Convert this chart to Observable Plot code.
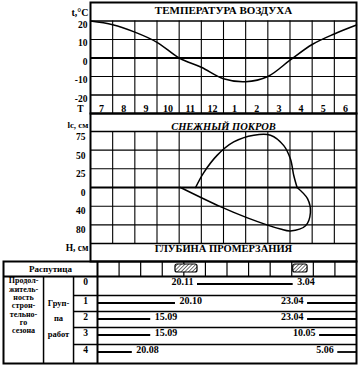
<!DOCTYPE html>
<html><head><meta charset="utf-8">
<script src="https://cdn.jsdelivr.net/npm/d3@7"></script>
<script src="https://cdn.jsdelivr.net/npm/@observablehq/plot@0.6"></script>
<style>
body{margin:0;background:#fff;}
#chart{position:relative;width:360px;height:365px;background:#fff;}
#chart svg{position:absolute;left:0;top:0;}
</style></head><body><div id="chart"></div>
<script>
// ---- data ----
const months = ["7","8","9","10","11","12","1","2","3","4","5","6"];
const monthNums = [7,8,9,10,11,12,1,2,3,4,5,6];
const daysInMonth = [31,31,30,31,30,31,31,28,31,30,31,30];
const tempPos = [0,1,2,3,4,5,6,7,8,9,10,11,12];
const tempC = [20,18,14,8.5,0,-5,-11.2,-12.8,-10,-1.2,7.3,13,17.8];
const tempTicks = [20,10,0,-10,-20];
const snowPos = [4.74,5.11,5.71,6.46,7.37,8.12,8.72,9.02,9.17,9.32];
const snowCm = [0,20,43,61,70,70,56,38,16,0];
const frostPos = [4.06,5.86,7.08,8.57,9.02,9.7,9.92,9.79,9.32];
const frostCm = [0,41,65,89,93,82,54,24,0];
const snowTicks = [75,50,25,0];
const frostTicks = [40,80];
const rasputitsa = [["20.10","20.11"],["3.04","23.04"]];
const groups = [0,1,2,3,4];
const winter = ["20.11","3.04"];
const seasonEnd = ["20.10","15.09","15.09","20.08"];
const seasonStart = ["23.04","23.04","10.05","5.06"];

function pos(s){
  const [d,m] = s.split(".").map(Number);
  const i = monthNums.indexOf(m);
  return i + (d-1)/daysInMonth[i];
}

const fnt = "'Liberation Serif','Times New Roman',serif";
const baseStyle = {fontFamily:fnt, fontWeight:"bold", fontSize:"10px", background:"transparent"};
const chart = document.getElementById("chart");

// ---- temperature ----
const tempData = tempPos.map((x,i)=>({x, t:tempC[i]}));
const p1 = Plot.plot({
  width:360, height:365, marginLeft:90, marginRight:4, marginTop:2, marginBottom:252,
  style:baseStyle,
  x:{domain:[0,12], axis:null},
  y:{domain:[-30,30], axis:null},
  marks:[
    Plot.ruleX(d3.range(1,12), {y1:-30, y2:20, strokeWidth:1.1}),
    Plot.ruleY([10,-10], {strokeWidth:1.1}),
    Plot.ruleY([20,-20], {strokeWidth:1.5}),
    Plot.ruleY([0], {strokeWidth:2.2}),
    Plot.line(tempData, {x:"x", y:"t", curve:"catmull-rom", strokeWidth:1.5}),
    Plot.text(months, {x:(d,i)=>i+0.5, y:-27.3, text:d=>d, fontSize:10}),
    Plot.text(["ТЕМПЕРАТУРА ВОЗДУХА"], {x:6, y:25.5, text:d=>d, fontSize:11}),
    Plot.text(tempTicks, {y:d=>d, text:d=>String(d), frameAnchor:"left", dx:-3, dy:3.5, textAnchor:"end", fontSize:9.5}),
    Plot.text(["t,°C"], {frameAnchor:"top-left", text:d=>d, dx:-2, dy:6, textAnchor:"end"}),
    Plot.text(["T"], {y:-27.8, text:d=>d, frameAnchor:"left", dx:-7, textAnchor:"end", fontSize:9.5}),
    Plot.frame({strokeWidth:2})
  ]
});
chart.appendChild(p1);

// ---- snow cover / frost depth (grid units: 25 cm above zero, 40 cm below) ----
const unit = v => v >= 0 ? v/25 : v/40;
const snow = snowPos.map((x,i)=>({x, v:snowCm[i]}));
const frost = frostPos.map((x,i)=>({x, v:-frostCm[i]}));
const p2 = Plot.plot({
  width:360, height:365, marginLeft:90, marginRight:4, marginTop:113, marginBottom:104,
  style:baseStyle,
  x:{domain:[0,12], axis:null},
  y:{domain:[-3.96,3.96], axis:null},
  marks:[
    Plot.ruleX(d3.range(1,12), {y1:unit(-120), y2:unit(75), strokeWidth:1.1}),
    Plot.ruleY([50,25,-40,-80], {y:unit, strokeWidth:1.1}),
    Plot.ruleY([75,-120], {y:unit, strokeWidth:1.6}),
    Plot.ruleY([0], {strokeWidth:2.2}),
    Plot.line(snow, {x:"x", y:d=>unit(d.v), curve:"catmull-rom", strokeWidth:1.5}),
    Plot.line(frost, {x:"x", y:d=>unit(d.v), curve:"catmull-rom", strokeWidth:1.5}),
    Plot.text(["СНЕЖНЫЙ ПОКРОВ"], {x:6, y:3.25, text:d=>d, fontSize:10.5, fontStyle:"italic"}),
    Plot.text(["ГЛУБИНА ПРОМЕРЗАНИЯ"], {x:6, y:-3.27, text:d=>d, fontSize:10.5}),
    Plot.text(snowTicks, {y:unit, text:d=>String(d), frameAnchor:"left", dx:-5, dy:5.5, textAnchor:"end", fontSize:9.5}),
    Plot.text(frostTicks, {y:d=>unit(-d), text:d=>String(d), frameAnchor:"left", dx:-5, dy:5, textAnchor:"end", fontSize:9.5}),
    Plot.text(["lс, см"], {y:3.33, text:d=>d, frameAnchor:"left", dx:-2, textAnchor:"end", fontSize:9}),
    Plot.text(["Н, см"], {y:-3.22, text:d=>d, frameAnchor:"left", dx:-2, textAnchor:"end", fontSize:9.5}),
    Plot.frame({strokeWidth:2})
  ]
});
chart.appendChild(p2);

// ---- table ----
const colEdge = [-94/21.583, -2.5, -1.11, 0];     // left, group col, number col, timeline start
const rowTop = [0, 15, 34, 50, 66, 83, 102];      // px offsets from table top
const segs = [{g:0, a:pos(winter[0]), b:pos(winter[1])}];
const labStart = [{g:0, x:pos(winter[1]), t:winter[1]}];
const labEnd = [{g:0, x:pos(winter[0]), t:winter[0]}];
seasonEnd.forEach((e,i)=>{
  const g = i+1, s = seasonStart[i];
  segs.push({g, a:0, b:pos(e)}, {g, a:pos(s), b:12});
  labStart.push({g, x:pos(e), t:e});
  labEnd.push({g, x:pos(s), t:s});
});
const rasp = rasputitsa.map(([a,b])=>({a:pos(a), b:pos(b)}));

const p3 = Plot.plot({
  width:360, height:365, marginLeft:3, marginRight:4, marginTop:261, marginBottom:2,
  style:baseStyle,
  x:{domain:[colEdge[0],12], axis:null},
  y:{domain:[0,102], reverse:true, axis:null},
  marks:[
    Plot.ruleX(d3.range(1,12), {y1:0, y2:rowTop[1], strokeWidth:1.2}),
    Plot.ruleX([0], {y1:0, y2:102, strokeWidth:2}),
    Plot.ruleX([colEdge[1], colEdge[2]], {y1:rowTop[1], y2:102, strokeWidth:1.5}),
    Plot.ruleY([rowTop[1]], {x1:colEdge[0], x2:12, strokeWidth:2}),
    Plot.ruleY(rowTop.slice(2,6), {x1:colEdge[2], x2:12, strokeWidth:1.5}),
    Plot.rect(rasp, {x1:"a", x2:"b", y1:3, y2:11, fill:"url(#hatch)", stroke:"black", strokeWidth:1.2, rx:2}),
    Plot.ruleY(segs, {y:d=>rowTop[d.g+1]+7.5, x1:"a", x2:"b", strokeWidth:1.8}),
    Plot.text(labStart, {x:"x", y:d=>rowTop[d.g+1]+5.5, text:"t", dx:4, textAnchor:"start", fontSize:10}),
    Plot.text(labEnd, {x:"x", y:d=>rowTop[d.g+1]+5.5, text:"t", dx:-4, textAnchor:"end", fontSize:10}),
    Plot.text(groups, {x:(colEdge[2]+colEdge[3])/2, y:d=>rowTop[d+1]+5.5, text:d=>String(d), fontSize:9.5}),
    Plot.text(["Распутица"], {x:(colEdge[0]+colEdge[3])/2, y:7.5, text:d=>d, fontSize:9}),
    Plot.text(["Продол-\nжитель-\nность\nстрон-\nтельно-\nго\nсезона"], {x:(colEdge[0]+colEdge[1])/2, y:rowTop[1], text:d=>d, lineAnchor:"top", dy:1, fontSize:8, lineHeight:1.04}),
    Plot.text(["Груп-\nпа\nработ"], {x:(colEdge[1]+colEdge[2])/2, y:rowTop[1], text:d=>d, lineAnchor:"top", dy:18, fontSize:8.5, lineHeight:1.83}),
    Plot.frame({strokeWidth:2})
  ]
});
const ns = "http://www.w3.org/2000/svg";
const defs = document.createElementNS(ns, "defs");
const pat = document.createElementNS(ns, "pattern");
pat.setAttribute("id","hatch");
pat.setAttribute("patternUnits","userSpaceOnUse");
pat.setAttribute("width","2.6");
pat.setAttribute("height","2.6");
pat.setAttribute("patternTransform","rotate(45)");
const bg = document.createElementNS(ns, "rect");
bg.setAttribute("width","2.6"); bg.setAttribute("height","2.6"); bg.setAttribute("fill","white");
const ln = document.createElementNS(ns, "line");
ln.setAttribute("x1","0"); ln.setAttribute("y1","0"); ln.setAttribute("x2","0"); ln.setAttribute("y2","2.6");
ln.setAttribute("stroke","black"); ln.setAttribute("stroke-width","1.1");
pat.appendChild(bg); pat.appendChild(ln); defs.appendChild(pat);
p3.insertBefore(defs, p3.firstChild);
chart.appendChild(p3);
</script></body></html>
